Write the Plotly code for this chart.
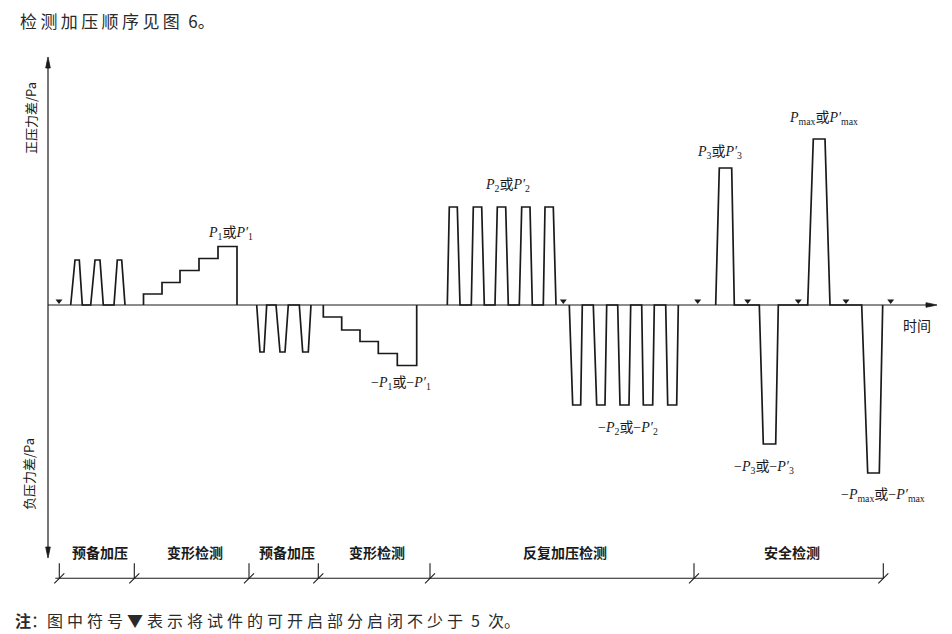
import plotly.graph_objects as go

# ---------------- data (time units from the pressure axis; pressure in relative units) ----------------
# 预备加压 (positive)
pre_pos_t = [22.7, 27, 31.3, 34.3, 42.7, 47, 52, 55.3, 66, 69.3, 73.7, 77]
pre_pos_p = [0, 45, 45, 0, 0, 45, 45, 0, 0, 45, 45, 0]
# 变形检测 (positive staircase up to P1)
def_pos_t = [95.5, 95.5, 114, 114, 132, 132, 151, 151, 170, 170, 189, 189]
def_pos_p = [0, 11, 11, 22.5, 22.5, 34.5, 34.5, 46.5, 46.5, 58.5, 58.5, 0]
# 预备加压 (negative)
pre_neg_t = [208.7, 212, 216, 218.7, 228, 232, 237, 240.3, 251.3, 254.7, 260.3, 263]
pre_neg_p = [0, -47, -47, 0, 0, -47, -47, 0, 0, -47, -47, 0]
# 变形检测 (negative staircase down to -P1)
def_neg_t = [275.3, 275.3, 293.7, 293.7, 312, 312, 330.3, 330.3, 349.3, 349.3, 368.7, 368.7]
def_neg_p = [0, -12, -12, -25, -25, -36.5, -36.5, -48.5, -48.5, -60.5, -60.5, 0]
# 反复加压检测 (positive P2 pulses)
rep_pos_t = [399.3, 401.3, 409.3, 412, 423.3, 425.3, 433.7, 436.3, 447, 449.3, 457.7, 460.3,
             471.3, 473.7, 482, 484.3, 495.3, 497, 505.3, 508]
rep_pos_p = [0, 98, 98, 0, 0, 98, 98, 0, 0, 98, 98, 0, 0, 98, 98, 0, 0, 98, 98, 0]
# 反复加压检测 (negative -P2 pulses)
rep_neg_t = [521.3, 524.7, 532.7, 534.3, 545.3, 548.7, 557, 558.7, 569.7, 572, 581, 582.7,
             593.7, 595.3, 604.7, 606.3, 617.7, 619.7, 628.7, 630.3]
rep_neg_p = [0, -100, -100, 0, 0, -100, -100, 0, 0, -100, -100, 0, 0, -100, -100, 0, 0, -100, -100, 0]
# 安全检测 (P3, -P3, Pmax, -Pmax)
safe_t = [667.7, 671.3, 683.7, 686.3, 711.3, 715.3, 727.7, 730.3,
          759.7, 765.3, 777, 782, 813.7, 819.7, 831.3, 834.7]
safe_p = [0, 137, 137, 0, 0, -139, -139, 0, 0, 166, 166, 0, 0, -168, -168, 0]

# ▼ open/close operations
open_close_t = [11, 515.3, 649.7, 699.7, 750.3, 798, 842.7]

# stage brackets
stage_names = ["预备加压", "变形检测", "预备加压", "变形检测", "反复加压检测", "安全检测"]
stage_bounds = [11.3, 86.3, 201, 270.3, 382, 646, 835.3]

# level labels (text, time, pressure)
level_labels = [
    ("<i>P</i><sub>1</sub>或<i>P′</i><sub>1</sub>", 182, 72),
    ("−<i>P</i><sub>1</sub>或−<i>P′</i><sub>1</sub>", 353, -78),
    ("<i>P</i><sub>2</sub>或<i>P′</i><sub>2</sub>", 459, 120),
    ("−<i>P</i><sub>2</sub>或−<i>P′</i><sub>2</sub>", 580, -123),
    ("<i>P</i><sub>3</sub>或<i>P′</i><sub>3</sub>", 671, 153),
    ("−<i>P</i><sub>3</sub>或−<i>P′</i><sub>3</sub>", 716, -162),
    ("<i>P</i><sub>max</sub>或<i>P′</i><sub>max</sub>", 775, 187),
    ("−<i>P</i><sub>max</sub>或−<i>P′</i><sub>max</sub>", 835, -190),
]

# ---------------- figure ----------------
INK = "#1a1a1a"
CJK = "Noto Sans CJK SC"
Y_TOP, Y_BOT, X_END = 248, -253, 889

fig = go.Figure()

# axes lines
fig.add_trace(go.Scatter(x=[0, 0], y=[Y_TOP - 4, Y_BOT + 4], mode="lines",
                         line=dict(color=INK, width=1.2), hoverinfo="skip"))
fig.add_trace(go.Scatter(x=[0, X_END - 4], y=[0, 0], mode="lines",
                         line=dict(color=INK, width=1.2), hoverinfo="skip"))
# arrowheads
AL, AW = 11, 2.3
fig.add_trace(go.Scatter(x=[-AW, 0, AW, -AW], y=[Y_TOP - AL, Y_TOP, Y_TOP - AL, Y_TOP - AL],
                         mode="lines", fill="toself", fillcolor=INK,
                         line=dict(color=INK, width=0.8), hoverinfo="skip"))
fig.add_trace(go.Scatter(x=[-AW, 0, AW, -AW], y=[Y_BOT + AL, Y_BOT, Y_BOT + AL, Y_BOT + AL],
                         mode="lines", fill="toself", fillcolor=INK,
                         line=dict(color=INK, width=0.8), hoverinfo="skip"))
fig.add_trace(go.Scatter(x=[X_END - AL, X_END, X_END - AL, X_END - AL], y=[-AW, 0, AW, -AW],
                         mode="lines", fill="toself", fillcolor=INK,
                         line=dict(color=INK, width=0.8), hoverinfo="skip"))

# waveform stages
for t, p in [(pre_pos_t, pre_pos_p), (def_pos_t, def_pos_p), (pre_neg_t, pre_neg_p),
             (def_neg_t, def_neg_p), (rep_pos_t, rep_pos_p), (rep_neg_t, rep_neg_p),
             (safe_t, safe_p)]:
    fig.add_trace(go.Scatter(x=t, y=p, mode="lines",
                             line=dict(color=INK, width=1.7), hoverinfo="skip"))

# ▼ markers
fig.add_trace(go.Scatter(x=open_close_t, y=[4] * len(open_close_t), mode="markers",
                         marker=dict(symbol="triangle-down", size=6, color=INK),
                         hoverinfo="skip"))

# stage bracket line + ticks
BR_Y = -273.3
fig.add_trace(go.Scatter(x=[stage_bounds[0] - 4, stage_bounds[-1]], y=[BR_Y, BR_Y], mode="lines",
                         line=dict(color=INK, width=1.1), hoverinfo="skip"))
for b in stage_bounds:
    fig.add_trace(go.Scatter(x=[b, b, None, b - 5, b + 5], y=[BR_Y + 15, BR_Y, None, BR_Y - 5, BR_Y + 5],
                             mode="lines", line=dict(color=INK, width=1.1), hoverinfo="skip"))

ann = []
for i, name in enumerate(stage_names):
    ann.append(dict(x=(stage_bounds[i] + stage_bounds[i + 1]) / 2 + 3, y=-246.7, text=f"<b>{name}</b>",
                    showarrow=False, font=dict(family=CJK, size=14, color=INK)))
for txt, tx, ty in level_labels:
    ann.append(dict(x=tx, y=ty, text=txt, showarrow=False,
                    font=dict(family=f"Liberation Serif, {CJK}", size=14, color=INK)))

ann.append(dict(x=-18, y=187, text="正压力差/Pa", textangle=-90, showarrow=False,
                font=dict(family=CJK, size=13, color=INK)))
ann.append(dict(x=-20, y=-169, text="负压力差/Pa", textangle=-90, showarrow=False,
                font=dict(family=CJK, size=13, color=INK)))
ann.append(dict(x=868.7, y=-20, text="时间", showarrow=False,
                font=dict(family=CJK, size=14, color=INK)))

TS = "\u2009"
title_txt = TS.join("检测加压顺序见图") + "\u2002" + "6。"
ann.append(dict(x=-30, y=285, text=title_txt, xanchor="left", showarrow=False,
                font=dict(family=CJK, size=17, color="#2a2a2a")))
NS = "\u2005"
note_txt = "<b>注</b>：" + NS.join("图中符号▼表示将试件的可开启部分启闭不少于") + "\u2002" + "5" + "\u2002" + "次。"
ann.append(dict(x=-35.3, y=-315, text=note_txt, xanchor="left", showarrow=False,
                font=dict(family=CJK, size=16, color="#2a2a2a")))

fig.update_layout(
    width=952, height=634, margin=dict(l=0, r=0, t=0, b=0),
    paper_bgcolor="white", plot_bgcolor="white", showlegend=False,
    xaxis=dict(visible=False, range=[-48, 904], fixedrange=True),
    yaxis=dict(visible=False, range=[-329, 305], fixedrange=True),
    annotations=ann,
)

fig.write_html("out.html", config={"displayModeBar": False},
               post_script="document.body.style.margin='0';document.body.style.overflow='hidden';")
